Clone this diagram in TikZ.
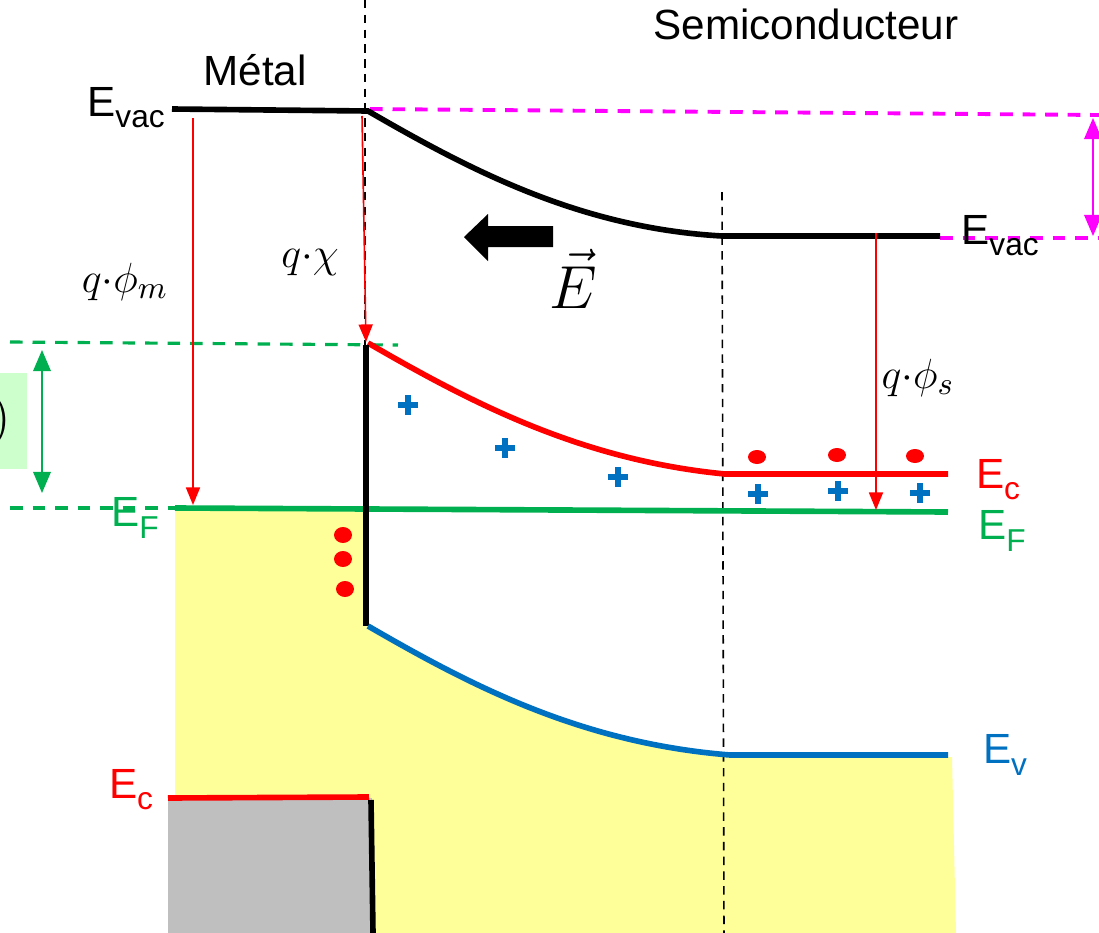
\documentclass[tikz,border=0pt]{standalone}
\usepackage{fontspec}
\setmainfont{Liberation Sans}
\usepackage{tikz}
\usetikzlibrary{arrows.meta}
\usepackage{xcolor}
\definecolor{bandred}{RGB}{255,0,0}
\definecolor{bandgreen}{RGB}{0,176,80}
\definecolor{bandblue}{RGB}{0,112,192}
\definecolor{vacpink}{RGB}{255,0,255}
\definecolor{semiyellow}{RGB}{255,255,153}
\definecolor{metalgrey}{RGB}{191,191,191}
\definecolor{boxgreen}{RGB}{204,255,204}
\newcommand{\lvl}[1]{E\raisebox{-0.5ex}{\fontsize{9}{10}\selectfont #1}}
\newcommand{\mlabel}{\fontsize{13}{15}\selectfont}

\begin{document}
\begin{tikzpicture}[x=0.01cm, y=-0.01cm, every node/.style={font=\fontsize{12}{14}\selectfont, inner sep=1pt},
  band/.style={line width=1.6pt},
  gap/.style={bandred, line width=0.45pt, -{Triangle[length=5pt,width=4pt]}},
  interface/.style={line width=0.45pt, dash pattern=on 2.4pt off 1.8pt},
  vacdash/.style={vacpink, line width=1.1pt, dash pattern=on 3.6pt off 2.8pt},
  fermidash/.style={bandgreen, line width=0.9pt, dash pattern=on 3.6pt off 2.8pt},
  twohead/.style={line width=0.5pt, {Triangle[length=6pt,width=5pt]}-{Triangle[length=6pt,width=5pt]}}]
  \useasboundingbox (0,0) rectangle (1099,933);
  \clip (0,0) rectangle (1099,933);

  % filled regions
  \fill[semiyellow] (175,508) -- (366,508) -- (366,626) .. controls (470,685) and (580,743) .. (730,757)
    -- (952,757) -- (956,933) -- (175,933) -- cycle;
  \fill[metalgrey] (168,798) rectangle (372,933);
  \fill[boxgreen] (0,373) rectangle (27,469);
  \node[font=\fontsize{15}{17}\selectfont, anchor=east, inner sep=0pt] (paren) at (11,421) {$)$};

  % reference lines
  \draw[interface] (365,0) -- (365,345);
  \draw[interface] (722,192) -- (724,933);
  \draw[vacdash] (370,109) -- (1099,115);
  \draw[vacdash] (940,238) -- (1099,238);
  \draw[fermidash] (10,342) -- (398,345);
  \draw[fermidash] (10,508) -- (175,508);

  % bands
  \draw[band] (172,109) -- (368,111) .. controls (470,170) and (580,228) .. (722,236) -- (940,236);
  \draw[band, bandred] (368,343) .. controls (470,402) and (580,460) .. (725,474) -- (948,474);
  \draw[band, bandgreen] (175,508) -- (948,512);
  \draw[band] (366,345) -- (366,626);
  \draw[band, bandblue] (368,626) .. controls (470,685) and (580,743) .. (730,755) -- (948,755);
  \draw[band, bandred] (168,798) -- (369,797);
  \draw[band] (371,800) -- (373,933);

  % energy gaps
  \coordinate (phimtop) at (193,118);
  \coordinate (phimbot) at (193,505);
  \coordinate (chitop) at (362,116);
  \coordinate (chibot) at (366,342);
  \coordinate (phistop) at (876,233);
  \coordinate (phisbot) at (876,510);
  \coordinate (barrtop) at (42,350);
  \coordinate (barrbot) at (42,493);
  \coordinate (vbtop) at (1093,118);
  \coordinate (vbbot) at (1093,236);
  \draw[gap] (phimtop) -- (phimbot);
  \draw[gap] (chitop) -- (chibot);
  \draw[gap] (phistop) -- (phisbot);
  \draw[twohead, bandgreen] (barrtop) -- (barrbot);
  \draw[twohead, vacpink] (vbtop) -- (vbbot);

  % field arrow
  \fill (553,226) -- (488,226) -- (488,214) -- (464,237) -- (488,261) -- (488,247) -- (553,247) -- cycle;

  % charges
  \foreach \x/\y in {343/535, 343/559, 345/589}
    \fill[bandred] (\x,\y) ellipse (9 and 8);
  \foreach \x/\y in {757/457, 837/455, 915/456}
    \fill[bandred] (\x,\y) ellipse (9 and 7);
  \foreach \x/\y in {408/405, 505/448, 618/477, 758/494, 838/491, 920/493}
    \draw[bandblue, line width=1.5pt] (\x-10,\y) -- (\x+10,\y) (\x,\y-10) -- (\x,\y+10);

  % labels
  \node (metal) at (255,70) {Métal};
  \node (semi) at (806,24) {Semiconducteur};
  \node (evacm) at (126,108) {\lvl{vac}};
  \node (evacs) at (1000,236) {\lvl{vac}};
  \node[font=\mlabel] (phim) at (125,282) {$q{\cdot}\phi_m$};
  \node[font=\mlabel] (chi) at (310,262) {$q{\cdot}\chi$};
  \node[font=\fontsize{19}{22}\selectfont] (efield) at (573,279) {$\vec{E}$};
  \node[font=\mlabel] (phis) at (918,378) {$q{\cdot}\phi_s$};
  \node[text=bandred] (ecs) at (998,480) {\lvl{c}};
  \node[text=bandgreen] (efs) at (1002,531) {\lvl{F}};
  \node[text=bandblue] (evs) at (1005,755) {\lvl{v}};
  \node[text=bandred] (ecm) at (131,790) {\lvl{c}};
  \node[text=bandgreen] (efm) at (135,518) {\lvl{F}};
\end{tikzpicture}
\end{document}
